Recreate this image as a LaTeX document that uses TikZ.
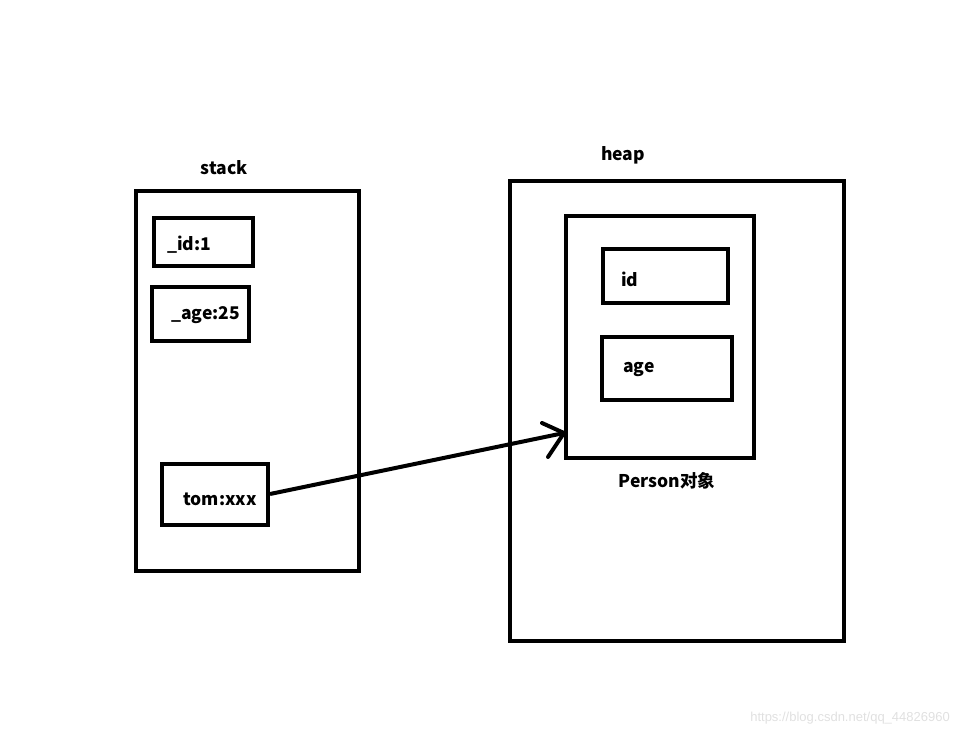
\documentclass[tikz,border=0pt]{standalone}
\usepackage{fontspec}
\setmainfont{Noto Sans CJK SC}
\newfontfamily\wmfont{Liberation Sans}
\begin{document}
\begin{tikzpicture}[x=1pt,y=-1pt,
  box/.style={draw=black,line width=4pt},
  lbl/.style={font=\fontsize{17.5}{19}\selectfont\bfseries,inner sep=0pt},
  conn/.style={draw=black,line width=4pt}]
\useasboundingbox (0,0) rectangle (959,736);
% stack
\node[lbl] (stacklbl) at (224,168) {stack};
\draw[box] (136,191) rectangle (359,571);
\node[box,minimum width=99pt,minimum height=48pt,inner sep=0pt] (idv) at (203.5,242) {};
\node[lbl,anchor=west] (idt) at (167,245) {\_id:1};
\node[box,minimum width=97pt,minimum height=54pt,inner sep=0pt] (agev) at (200.5,314) {};
\node[lbl,anchor=west] (aget) at (171,315) {\_age:25};
\node[box,minimum width=106pt,minimum height=61pt,inner sep=0pt] (tom) at (215,494.5) {};
\node[lbl] (tomt) at (220,499) {tom:xxx};
% heap
\node[lbl] (heaplbl) at (623,155) {heap};
\draw[box] (510,181) rectangle (844,641);
\node[box,minimum width=188pt,minimum height=242pt,inner sep=0pt] (person) at (660,337) {};
\node[box,minimum width=125pt,minimum height=54pt,inner sep=0pt] (hid) at (665.5,276) {};
\node[lbl,anchor=west] (hidt) at (621,279) {id};
\node[box,minimum width=130pt,minimum height=63pt,inner sep=0pt] (hage) at (667,368.5) {};
\node[lbl,anchor=west] (haget) at (623,369) {age};
\node[lbl] (personlbl) at (667,481) {Person对象};
% arrow
\coordinate (tip) at (564,433);
\coordinate (h1) at (542,423);
\coordinate (h2) at (548,457);
\draw[conn] (tom.east |- 0,494) -- (tip);
\draw[conn,line cap=round] (h1) -- (tip) -- (h2);
% watermark
\node[font=\wmfont\fontsize{13}{15}\selectfont,text=black!12,anchor=east,inner sep=0pt] (wm) at (950,718) {https://blog.csdn.net/qq\_44826960};
\end{tikzpicture}
\end{document}
